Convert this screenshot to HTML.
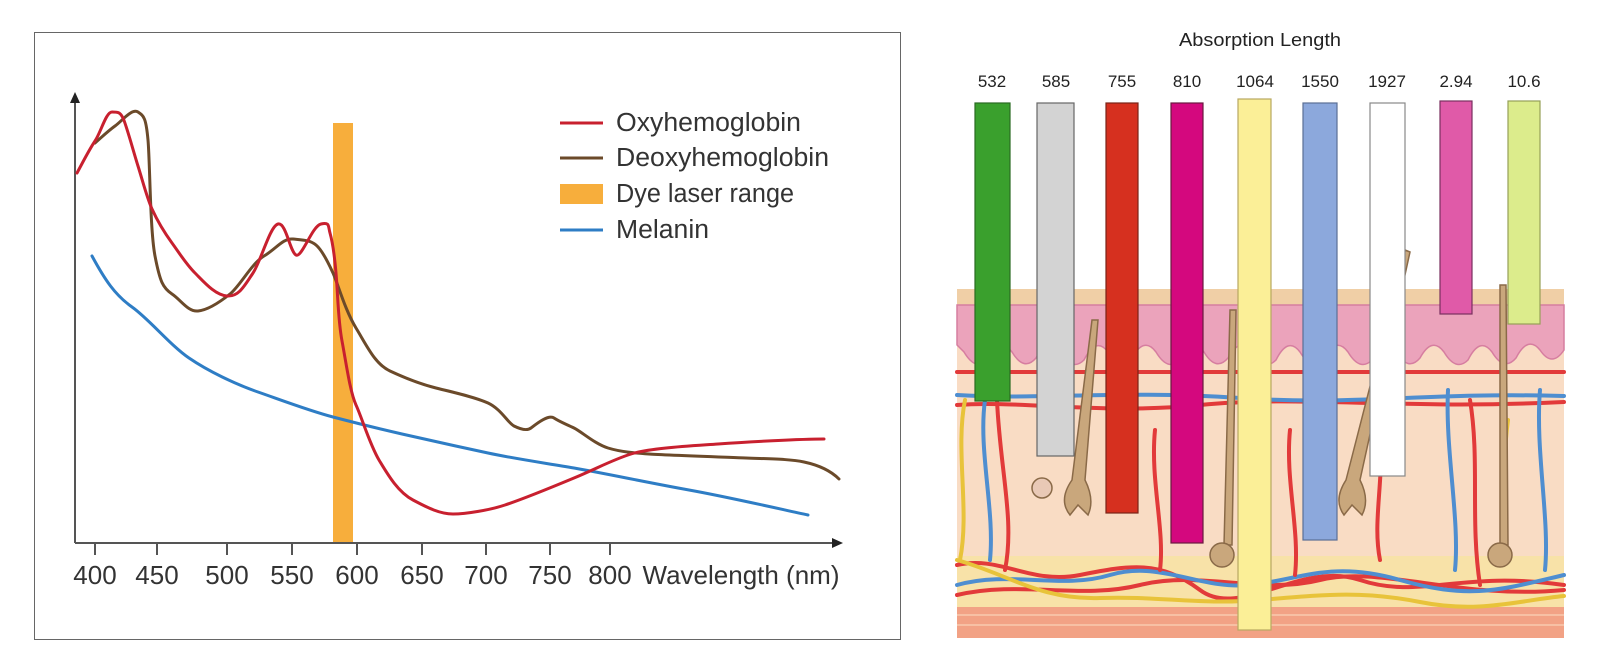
<!DOCTYPE html>
<html><head><meta charset="utf-8"><style>
html,body{margin:0;padding:0;background:#fff;}
svg{display:block;font-family:"Liberation Sans",sans-serif;}
</style></head><body>
<svg width="1600" height="668" viewBox="0 0 1600 668" xmlns="http://www.w3.org/2000/svg">
<rect x="0" y="0" width="1600" height="668" fill="#fff"/>
<!-- LEFT CHART -->
<rect x="34.5" y="32.5" width="866" height="607" fill="#fff" stroke="#666" stroke-width="1"/>
<rect x="333" y="123" width="20" height="420" fill="#f7ae3c"/>
<g stroke="#555" stroke-width="2" fill="none">
<line x1="75" y1="543" x2="836" y2="543"/>
<line x1="75" y1="543" x2="75" y2="100"/>
<line x1="95" y1="543" x2="95" y2="555"/><line x1="157" y1="543" x2="157" y2="555"/>
<line x1="227" y1="543" x2="227" y2="555"/><line x1="292" y1="543" x2="292" y2="555"/>
<line x1="357" y1="543" x2="357" y2="555"/><line x1="422" y1="543" x2="422" y2="555"/>
<line x1="486" y1="543" x2="486" y2="555"/><line x1="550" y1="543" x2="550" y2="555"/>
<line x1="610" y1="543" x2="610" y2="555"/>
</g>
<polygon points="843,543 832,538 832,548" fill="#222"/>
<polygon points="75,92 70,103 80,103" fill="#222"/>
<g font-size="26" fill="#333" text-anchor="middle">
<text x="95" y="584">400</text><text x="157" y="584">450</text><text x="227" y="584">500</text>
<text x="292" y="584">550</text><text x="357" y="584">600</text><text x="422" y="584">650</text>
<text x="486" y="584">700</text><text x="550" y="584">750</text><text x="610" y="584">800</text>
<text x="741" y="584">Wavelength (nm)</text>
</g>
<g fill="none" stroke-width="3" stroke-linejoin="round" stroke-linecap="round">
<path stroke="#2e7dc5" d="M92,256 C105,280 115,295 132,307 S170,345 189,358 S235,384 258,392 S310,411 333,417 S380,429 402,434 S460,447 488,453 S545,463 574,468 S650,483 689,490 S780,509 808,515"/>
<path stroke="#6b4a2a" d="M95,143 C103,136 108,131 115,126 S132,108 138,112 S146,118 148,140 S150,230 155,256 S163,288 172,294 S188,312 198,311 S220,302 230,294 S252,263 264,256 S283,238 293,239 S310,240 316,245 S328,262 333,273 S345,310 356,328 S375,364 390,371 S420,384 436,388 S475,397 488,403 S508,423 514,426 S527,431 531,428 S548,414 554,418 S566,424 574,428 S595,444 608,448 S635,453 649,454 S720,457 746,458 S790,459 804,462 S830,470 839,479"/>
<path stroke="#c8202f" d="M77,173 C84,160 89,150 95,141 S106,112 112,112 S120,112 123,118 S133,150 138,166 S147,198 152,209 S164,232 172,243 S186,264 195,273 S215,295 227,296 S245,285 253,273 S270,226 278,224 S290,252 296,255 S312,226 321,224 S328,226 330,233 S334,250 336,273 S338,320 342,341 S350,392 356,405 S370,445 379,460 S398,492 413,500 S440,514 453,514 S490,510 505,505 S550,488 574,478 S612,460 631,454 S690,446 718,444 S800,439 824,439"/>
</g>
<g stroke-width="3">
<line x1="560" y1="123" x2="603" y2="123" stroke="#c8202f"/>
<line x1="560" y1="158" x2="603" y2="158" stroke="#6b4a2a"/>
<line x1="560" y1="230" x2="603" y2="230" stroke="#2e7dc5"/>
</g>
<rect x="560" y="184" width="43" height="20" fill="#f7ae3c"/>
<g font-size="25.5" fill="#333">
<text x="616" y="131" textLength="185" lengthAdjust="spacingAndGlyphs">Oxyhemoglobin</text>
<text x="616" y="166" textLength="213" lengthAdjust="spacingAndGlyphs">Deoxyhemoglobin</text>
<text x="616" y="202" textLength="178" lengthAdjust="spacingAndGlyphs">Dye laser range</text>
<text x="616" y="238" textLength="93" lengthAdjust="spacingAndGlyphs">Melanin</text>
</g>
<!-- RIGHT ILLUSTRATION -->
<text x="1260" y="46" font-size="18.5" fill="#222" text-anchor="middle" textLength="162" lengthAdjust="spacingAndGlyphs">Absorption Length</text>
<g font-size="17" fill="#222" text-anchor="middle">
<text x="992" y="87">532</text><text x="1056" y="87">585</text><text x="1122" y="87">755</text>
<text x="1187" y="87">810</text><text x="1255" y="87">1064</text><text x="1320" y="87">1550</text>
<text x="1387" y="87">1927</text><text x="1456" y="87">2.94</text><text x="1524" y="87">10.6</text>
</g>
<!-- skin layers -->
<rect x="957" y="289" width="607" height="349" fill="#f9dcc4"/>
<rect x="957" y="289" width="607" height="17" fill="#f0cfa6"/>
<path d="M957,305 H1564 V350 Q1552,368 1540,350 Q1528,335 1516,358 Q1504,372 1492,352 Q1480,336 1468,360 Q1456,372 1444,352 Q1432,336 1420,358 Q1408,372 1396,352 Q1384,336 1372,360 Q1360,372 1348,352 Q1336,336 1324,358 Q1312,372 1300,352 Q1288,336 1276,360 Q1264,372 1252,352 Q1240,336 1228,358 Q1216,372 1204,352 Q1192,336 1180,360 Q1168,372 1156,352 Q1144,336 1132,358 Q1120,372 1108,352 Q1096,336 1084,360 Q1072,372 1060,352 Q1048,336 1036,358 Q1024,372 1012,352 Q1000,336 988,360 Q976,372 964,352 L957,345 Z" fill="#eba3bb" stroke="#d67ea0" stroke-width="1.5"/>
<rect x="957" y="556" width="607" height="51" fill="#f8e2a8"/>
<rect x="957" y="607" width="607" height="31" fill="#f2a285"/>
<g stroke="#f7c0a4" stroke-width="2"><line x1="957" y1="615" x2="1564" y2="615"/><line x1="957" y1="625" x2="1564" y2="625"/></g>
<!-- vessels -->
<g fill="none" stroke-width="4" stroke-linecap="round">
<path stroke="#e23a3a" d="M957,372 H1564"/>
<path stroke="#e23a3a" d="M957,405 C1020,400 1100,415 1200,405 S1400,410 1564,402"/>
<path stroke="#4f8ed0" d="M957,395 C1040,400 1120,390 1240,398 S1420,392 1564,396"/>
<path stroke="#e23a3a" d="M957,565 C1000,555 1030,585 1080,575 S1160,560 1200,590 S1300,560 1360,580 S1460,570 1564,585"/>
<path stroke="#e23a3a" d="M957,595 C1020,580 1080,600 1140,585 S1260,595 1320,580 S1460,600 1564,590"/>
<path stroke="#4f8ed0" d="M957,585 C1010,570 1060,590 1110,575 S1200,590 1250,585 S1330,560 1400,580 S1500,590 1564,575"/>
<path stroke="#e8c33a" d="M957,560 C1010,575 1040,600 1100,598 S1200,605 1260,600 S1360,590 1420,602 S1520,600 1564,596"/>
<path stroke="#e8c33a" d="M965,400 C955,450 970,510 960,560"/>
<path stroke="#4f8ed0" d="M985,400 C978,450 995,510 990,560"/>
<path stroke="#e23a3a" d="M997,400 C1000,470 1015,520 1005,570"/>
<path stroke="#e23a3a" d="M1155,430 C1150,480 1165,530 1160,570"/>
<path stroke="#e23a3a" d="M1290,430 C1285,480 1300,530 1295,575"/>
<path stroke="#4f8ed0" d="M1448,390 C1445,450 1460,520 1455,570"/>
<path stroke="#e23a3a" d="M1470,400 C1480,460 1470,520 1480,585"/>
<path stroke="#4f8ed0" d="M1540,390 C1535,450 1550,520 1545,570"/>
<path stroke="#e8c33a" d="M1508,420 C1500,480 1510,520 1500,560"/>
<path stroke="#e23a3a" d="M1380,420 C1385,480 1372,520 1380,560"/>
</g>
<!-- hair follicles -->
<g fill="#c9a77c" stroke="#8a6a48" stroke-width="1.5">
<path d="M1092,320 L1098,320 L1085,480 Q1095,500 1088,515 L1078,505 L1070,515 Q1058,500 1072,480 Z"/>
<path d="M1230,310 L1236,310 L1232,545 L1224,545 Z"/>
<path d="M1405,250 L1410,252 L1360,480 Q1370,500 1362,515 L1352,505 L1344,515 Q1333,500 1346,480 Z"/>
<path d="M1500,285 L1506,285 L1508,545 L1500,545 Z"/>
<circle cx="1222" cy="555" r="12"/><circle cx="1500" cy="555" r="12"/>
<circle cx="1042" cy="488" r="10" fill="#e9c9b6"/>
</g>
<!-- laser bars -->
<g stroke-width="1.2">
<rect x="975" y="103" width="35" height="298" fill="#3aa02d" stroke="#2a6a22"/>
<rect x="1037" y="103" width="37" height="353" fill="#d3d3d3" stroke="#666"/>
<rect x="1106" y="103" width="32" height="410" fill="#d6301f" stroke="#7a2418"/>
<rect x="1171" y="103" width="32" height="440" fill="#d4087e" stroke="#6a1a40"/>
<rect x="1238" y="99" width="33" height="531" fill="#fbef97" stroke="#b8a862"/>
<rect x="1303" y="103" width="34" height="437" fill="#8ca8dc" stroke="#5a6f95"/>
<rect x="1370" y="103" width="35" height="373" fill="#ffffff" stroke="#888"/>
<rect x="1440" y="101" width="32" height="213" fill="#e05aa8" stroke="#7a3060"/>
<rect x="1508" y="101" width="32" height="223" fill="#dcec8c" stroke="#95a058"/>
</g>
</svg>
</body></html>
